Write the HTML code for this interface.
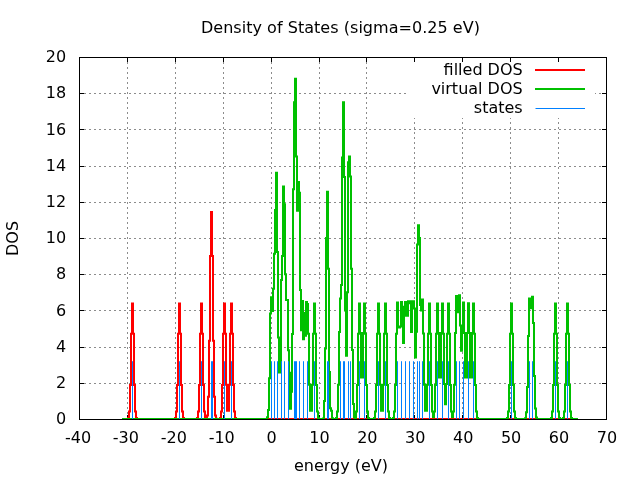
<!DOCTYPE html>
<html><head><meta charset="utf-8"><title>Density of States</title>
<style>html,body{margin:0;padding:0;background:#fff;overflow:hidden}svg{display:block}</style></head>
<body>
<svg width="640" height="480" viewBox="0 0 640 480">
<rect width="640" height="480" fill="#fff"/>
<path d="M127.5,419 V57 M175.5,419 V57 M223.5,419 V57 M271.5,419 V57 M319.5,419 V57 M366.5,419 V57 M414.5,419 V57 M462.5,419 V57 M510.5,419 V57 M558.5,419 V57 M79,383.5 H607 M79,347.5 H607 M79,310.5 H607 M79,274.5 H607 M79,238.5 H607 M79,202.5 H607 M79,166.5 H607 M79,129.5 H607 M79,93.5 H607" stroke="#8c8c8c" stroke-width="1" stroke-dasharray="2,3" fill="none"/>
<rect x="406" y="58" width="189" height="60" fill="#fff"/>
<path d="M79.5,419.5 v-4.5 M79.5,57.5 v4.5 M127.5,419.5 v-4.5 M127.5,57.5 v4.5 M175.5,419.5 v-4.5 M175.5,57.5 v4.5 M223.5,419.5 v-4.5 M223.5,57.5 v4.5 M271.5,419.5 v-4.5 M271.5,57.5 v4.5 M319.5,419.5 v-4.5 M319.5,57.5 v4.5 M366.5,419.5 v-4.5 M366.5,57.5 v4.5 M414.5,419.5 v-4.5 M414.5,57.5 v4.5 M462.5,419.5 v-4.5 M462.5,57.5 v4.5 M510.5,419.5 v-4.5 M510.5,57.5 v4.5 M558.5,419.5 v-4.5 M558.5,57.5 v4.5 M606.5,419.5 v-4.5 M606.5,57.5 v4.5 M79.5,419.5 h4.5 M606.5,419.5 h-4.5 M79.5,383.5 h4.5 M606.5,383.5 h-4.5 M79.5,347.5 h4.5 M606.5,347.5 h-4.5 M79.5,310.5 h4.5 M606.5,310.5 h-4.5 M79.5,274.5 h4.5 M606.5,274.5 h-4.5 M79.5,238.5 h4.5 M606.5,238.5 h-4.5 M79.5,202.5 h4.5 M606.5,202.5 h-4.5 M79.5,166.5 h4.5 M606.5,166.5 h-4.5 M79.5,129.5 h4.5 M606.5,129.5 h-4.5 M79.5,93.5 h4.5 M606.5,93.5 h-4.5 M79.5,57.5 h4.5 M606.5,57.5 h-4.5" stroke="#000" stroke-width="1" fill="none"/>
<rect x="79.5" y="57.5" width="527.0" height="362.0" fill="none" stroke="#000" stroke-width="1"/>
<clipPath id="pc"><rect x="79" y="57" width="528" height="362"/></clipPath>
<g clip-path="url(#pc)">
<path d="M122,419 L127,419 L127,418.94 L128,418.94 L128,418.12 L129,418.12 L129,411.59 L130,411.59 L130,384.91 L131,384.91 L131,333.85 L132,333.85 L132,303.47 L133,303.47 L133,333.85 L134,333.85 L134,384.91 L135,384.91 L135,411.59 L136,411.59 L136,418.12 L137,418.12 L137,418.94 L138,418.94 L138,419 L174,419 L174,418.94 L175,418.94 L175,418.12 L176,418.12 L176,411.59 L177,411.59 L177,384.91 L178,384.91 L178,333.85 L179,333.85 L179,303.47 L180,303.47 L180,333.85 L181,333.85 L181,384.91 L182,384.91 L182,411.59 L183,411.59 L183,418.12 L184,418.12 L184,418.94 L185,418.94 L185,419 L196,419 L196,418.94 L197,418.94 L197,418.12 L198,418.12 L198,411.59 L199,411.59 L199,384.91 L200,384.91 L200,333.85 L201,333.85 L201,303.47 L202,303.47 L202,333.85 L203,333.85 L203,384.91 L204,384.91 L204,411.59 L205,411.59 L205,418.11 L206,418.11 L206,418.62 L207,418.62 L207,415.42 L208,415.42 L208,396.87 L209,396.87 L209,340.79 L210,340.79 L210,256.08 L211,256.08 L211,211.97 L212,211.97 L212,256.08 L213,256.08 L213,340.79 L214,340.79 L214,396.87 L215,396.87 L215,415.43 L216,415.43 L216,418.68 L217,418.68 L217,418.98 L218,418.98 L218,419 L219,419 L219,418.94 L220,418.94 L220,418.12 L221,418.12 L221,411.59 L222,411.59 L222,384.91 L223,384.91 L223,333.85 L224,333.85 L224,303.47 L225,303.47 L225,333.85 L226,333.85 L226,384.86 L227,384.86 L227,410.71 L229,410.71 L229,384.86 L230,384.86 L230,333.85 L231,333.85 L231,303.47 L232,303.47 L232,333.85 L233,333.85 L233,384.91 L234,384.91 L234,411.59 L235,411.59 L235,418.12 L236,418.12 L236,418.94 L237,418.94 L237,419 L578,419" stroke="#ff0000" stroke-width="2" fill="none" stroke-linejoin="miter"/>
<path d="M122,419 L266,419 L266,418.94 L267,418.94 L267,417.19 L268,417.19 L268,409.95 L269,409.95 L269,378.27 L270,378.27 L270,313.48 L271,313.48 L271,297.19 L272,297.19 L272,310.94 L273,310.94 L273,288.86 L274,288.86 L274,253.75 L275,253.75 L275,209.94 L276,209.94 L276,172.84 L277,172.84 L277,251.94 L278,251.94 L278,337.55 L279,337.55 L279,372.48 L281,372.48 L281,279.99 L282,279.99 L282,256.1 L283,256.1 L283,186.41 L284,186.41 L284,204.15 L285,204.15 L285,274.2 L286,274.2 L286,300.08 L288,300.08 L288,350.22 L289,350.22 L289,372.66 L290,372.66 L290,408.86 L291,408.86 L291,391.85 L292,391.85 L292,333.93 L293,333.93 L293,189.13 L294,189.13 L294,102.25 L295,102.25 L295,78.72 L296,78.72 L296,156.55 L297,156.55 L297,210.85 L298,210.85 L298,181.89 L299,181.89 L299,192.75 L300,192.75 L300,289.95 L301,289.95 L301,330.31 L302,330.31 L302,300.99 L303,300.99 L303,339.36 L304,339.36 L304,312.93 L305,312.93 L305,335.74 L306,335.74 L306,302.07 L307,302.07 L307,304.06 L308,304.06 L308,333.79 L309,333.79 L309,384.86 L310,384.86 L310,410.71 L312,410.71 L312,384.86 L313,384.86 L313,333.85 L314,333.85 L314,303.47 L315,303.47 L315,333.85 L316,333.85 L316,384.91 L317,384.91 L317,411.59 L318,411.59 L318,418.12 L319,418.12 L319,418.94 L320,418.94 L320,419 L322,419 L322,418.98 L323,418.98 L323,418.61 L324,418.61 L324,400.9 L325,400.9 L325,348.41 L326,348.41 L326,238 L327,238 L327,191.84 L328,191.84 L328,268.77 L329,268.77 L329,371.94 L330,371.94 L330,408.14 L331,408.14 L331,410.63 L332,410.63 L332,418.14 L333,418.14 L333,418.95 L334,418.95 L334,419 L335,419 L335,418.94 L336,418.94 L336,418.12 L337,418.12 L337,411.58 L338,411.58 L338,384.8 L339,384.8 L339,332.05 L340,332.05 L340,298.45 L341,298.45 L341,285.06 L342,285.06 L342,157.45 L343,157.45 L343,102.25 L344,102.25 L344,177 L345,177 L345,310.4 L346,310.4 L346,355.65 L347,355.65 L347,292.3 L348,292.3 L348,162.34 L349,162.34 L349,156.55 L350,156.55 L350,176.46 L351,176.46 L351,268.77 L352,268.77 L352,349.95 L353,349.95 L353,404.12 L354,404.12 L354,417.19 L355,417.19 L355,418.01 L356,418.01 L356,411.58 L357,411.58 L357,384.91 L358,384.91 L358,333.85 L359,333.85 L359,303.41 L360,303.41 L360,332.98 L361,332.98 L361,377.5 L363,377.5 L363,332.98 L364,332.98 L364,303.41 L365,303.41 L365,333.85 L366,333.85 L366,384.91 L367,384.91 L367,411.59 L368,411.59 L368,418.12 L369,418.12 L369,418.94 L370,418.94 L370,419 L373,419 L373,418.94 L374,418.94 L374,418.12 L375,418.12 L375,411.59 L376,411.59 L376,384.91 L377,384.91 L377,333.85 L378,333.85 L378,303.47 L379,303.47 L379,333.85 L380,333.85 L380,384.86 L381,384.86 L381,410.71 L383,410.71 L383,384.86 L384,384.86 L384,333.85 L385,333.85 L385,303.47 L386,303.47 L386,333.85 L387,333.85 L387,384.91 L388,384.91 L388,411.59 L389,411.59 L389,418.12 L390,418.12 L390,418.94 L391,418.94 L391,419 L392,419 L392,418.94 L393,418.94 L393,418.12 L394,418.12 L394,411.59 L395,411.59 L395,384.91 L396,384.91 L396,333.8 L397,333.8 L397,302.59 L398,302.59 L398,326.44 L399,326.44 L399,327.6 L400,327.6 L400,326.39 L401,326.39 L401,302.07 L402,302.07 L402,306.78 L403,306.78 L403,342.98 L404,342.98 L404,306.78 L405,306.78 L405,302.07 L406,302.07 L406,315.83 L408,315.83 L408,301.35 L410,301.35 L410,303.16 L411,303.16 L411,332.12 L412,332.12 L412,301.35 L414,301.35 L414,308.59 L415,308.59 L415,357.46 L416,357.46 L416,331.79 L417,331.79 L417,244.52 L418,244.52 L418,225.33 L419,225.33 L419,238 L420,238 L420,305.12 L421,305.12 L421,310.45 L422,310.45 L422,299.55 L423,299.55 L423,333.48 L424,333.48 L424,384.84 L425,384.84 L425,410.71 L427,410.71 L427,384.86 L428,384.86 L428,333.85 L429,333.85 L429,303.47 L430,303.47 L430,333.85 L431,333.85 L431,384.91 L432,384.91 L432,411.53 L433,411.53 L433,417.25 L434,417.25 L434,411.53 L435,411.53 L435,384.91 L436,384.91 L436,333.85 L437,333.85 L437,303.41 L438,303.41 L438,332.98 L439,332.98 L439,377.5 L441,377.5 L441,332.98 L442,332.98 L442,303.41 L443,303.41 L443,333.79 L444,333.79 L444,384.04 L445,384.04 L445,404.18 L446,404.18 L446,384.04 L447,384.04 L447,333.8 L448,333.8 L448,303.46 L449,303.46 L449,333.85 L450,333.85 L450,384.91 L451,384.91 L451,411.53 L452,411.53 L452,417.25 L453,417.25 L453,411.53 L454,411.53 L454,384.86 L455,384.86 L455,332.98 L456,332.98 L456,296.06 L457,296.06 L457,312.21 L458,312.21 L458,299.71 L459,299.71 L459,295.18 L460,295.18 L460,325.57 L461,325.57 L461,350.77 L462,350.77 L462,326.44 L463,326.44 L463,302.53 L464,302.53 L464,332.92 L465,332.92 L465,377.5 L467,377.5 L467,332.98 L468,332.98 L468,303.35 L469,303.35 L469,332.98 L470,332.98 L470,377.5 L472,377.5 L472,332.98 L473,332.98 L473,303.41 L474,303.41 L474,333.85 L475,333.85 L475,384.91 L476,384.91 L476,411.59 L477,411.59 L477,418.12 L478,418.12 L478,418.94 L479,418.94 L479,419 L506,419 L506,418.94 L507,418.94 L507,418.12 L508,418.12 L508,411.59 L509,411.59 L509,384.91 L510,384.91 L510,333.85 L511,333.85 L511,303.47 L512,303.47 L512,333.85 L513,333.85 L513,384.91 L514,384.91 L514,411.59 L515,411.59 L515,418.12 L516,418.12 L516,418.94 L517,418.94 L517,419 L524,419 L524,418.95 L525,418.95 L525,418.23 L526,418.23 L526,412.24 L527,412.24 L527,386.93 L528,386.93 L528,335.94 L529,335.94 L529,298.48 L530,298.48 L530,304.9 L531,304.9 L531,308.35 L532,308.35 L532,296.75 L533,296.75 L533,322.98 L534,322.98 L534,375.95 L535,375.95 L535,408.44 L536,408.44 L536,417.59 L537,417.59 L537,418.9 L538,418.9 L538,419 L550,419 L550,418.94 L551,418.94 L551,418.12 L552,418.12 L552,411.59 L553,411.59 L553,384.91 L554,384.91 L554,333.85 L555,333.85 L555,303.47 L556,303.47 L556,333.85 L557,333.85 L557,384.91 L558,384.91 L558,411.59 L559,411.59 L559,418.12 L560,418.12 L560,418.94 L561,418.94 L561,419 L562,419 L562,418.94 L563,418.94 L563,418.12 L564,418.12 L564,411.59 L565,411.59 L565,384.91 L566,384.91 L566,333.85 L567,333.85 L567,303.47 L568,303.47 L568,333.85 L569,333.85 L569,384.91 L570,384.91 L570,411.59 L571,411.59 L571,418.12 L572,418.12 L572,418.94 L573,418.94 L573,419 L578,419" stroke="#00c000" stroke-width="2" fill="none" stroke-linejoin="miter"/>
<path d="M132.5,419.5 V361.23 M179.5,419.5 V361.23 M201.5,419.5 V361.23 M211.5,419.5 V361.23 M212.5,419.5 V361.23 M224.5,419.5 V361.23 M231.5,419.5 V361.23 M271.5,419.5 V361.23 M274.5,419.5 V361.23 M277.5,419.5 V361.23 M281.5,419.5 V361.23 M284.5,419.5 V361.23 M288.5,419.5 V361.23 M294.5,419.5 V361.23 M295.5,419.5 V361.23 M296.5,419.5 V361.23 M299.5,419.5 V361.23 M303.5,419.5 V361.23 M307.5,419.5 V361.23 M314.5,419.5 V361.23 M327.5,419.5 V361.23 M328.5,419.5 V361.23 M340.5,419.5 V361.23 M343.5,419.5 V361.23 M344.5,419.5 V361.23 M348.5,419.5 V361.23 M350.5,419.5 V361.23 M359.5,419.5 V361.23 M364.5,419.5 V361.23 M378.5,419.5 V361.23 M385.5,419.5 V361.23 M397.5,419.5 V361.23 M401.5,419.5 V361.23 M405.5,419.5 V361.23 M409.5,419.5 V361.23 M413.5,419.5 V361.23 M417.5,419.5 V361.23 M419.5,419.5 V361.23 M422.5,419.5 V361.23 M429.5,419.5 V361.23 M437.5,419.5 V361.23 M442.5,419.5 V361.23 M448.5,419.5 V361.23 M456.5,419.5 V361.23 M459.5,419.5 V361.23 M463.5,419.5 V361.23 M468.5,419.5 V361.23 M473.5,419.5 V361.23 M511.5,419.5 V361.23 M529.5,419.5 V361.23 M532.5,419.5 V361.23 M555.5,419.5 V361.23 M567.5,419.5 V361.23" stroke="#0080ff" stroke-width="1" fill="none"/>
</g>
<path d="M535,70 H585" stroke="#ff0000" stroke-width="2"/>
<path d="M535,89 H585" stroke="#00c000" stroke-width="2"/>
<path d="M535.5,108.5 H585" stroke="#0080ff" stroke-width="1"/>
<g font-family="DejaVu Sans, Liberation Sans, sans-serif" font-size="16" fill="#000">
<text x="78.00" y="442.6" text-anchor="middle">-40</text>
<text x="125.91" y="442.6" text-anchor="middle">-30</text>
<text x="173.82" y="442.6" text-anchor="middle">-20</text>
<text x="221.73" y="442.6" text-anchor="middle">-10</text>
<text x="271.54" y="442.6" text-anchor="middle">0</text>
<text x="319.45" y="442.6" text-anchor="middle">10</text>
<text x="367.35" y="442.6" text-anchor="middle">20</text>
<text x="415.26" y="442.6" text-anchor="middle">30</text>
<text x="463.17" y="442.6" text-anchor="middle">40</text>
<text x="511.08" y="442.6" text-anchor="middle">50</text>
<text x="558.99" y="442.6" text-anchor="middle">60</text>
<text x="606.90" y="442.6" text-anchor="middle">70</text>
<text x="66.1" y="424.10" text-anchor="end">0</text>
<text x="66.1" y="387.90" text-anchor="end">2</text>
<text x="66.1" y="351.70" text-anchor="end">4</text>
<text x="66.1" y="315.50" text-anchor="end">6</text>
<text x="66.1" y="279.30" text-anchor="end">8</text>
<text x="66.1" y="243.10" text-anchor="end">10</text>
<text x="66.1" y="206.90" text-anchor="end">12</text>
<text x="66.1" y="170.70" text-anchor="end">14</text>
<text x="66.1" y="134.50" text-anchor="end">16</text>
<text x="66.1" y="98.30" text-anchor="end">18</text>
<text x="66.1" y="62.10" text-anchor="end">20</text>
<text x="200.9" y="32.8" textLength="279.06" lengthAdjust="spacing">Density of States (sigma=0.25 eV)</text>
<text x="341" y="470.9" text-anchor="middle">energy (eV)</text>
<text transform="translate(17.5,238.5) rotate(-90)" text-anchor="middle">DOS</text>
<text x="522.7" y="75.15" text-anchor="end">filled DOS</text>
<text x="522.7" y="94.0" text-anchor="end">virtual DOS</text>
<text x="522.7" y="113.1" text-anchor="end">states</text>
</g>
</svg>
</body></html>
